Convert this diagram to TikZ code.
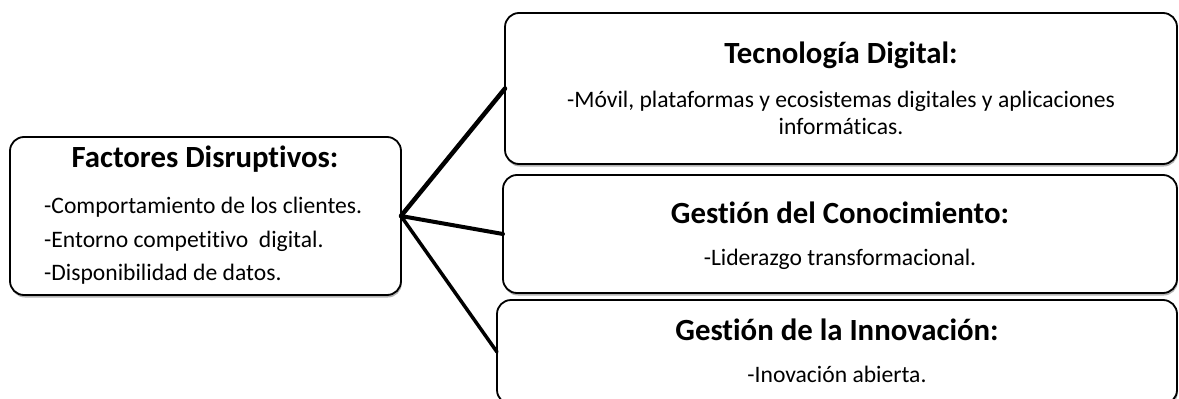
\documentclass[tikz,border=0pt]{standalone}
\usepackage{fontspec}
\setmainfont{Carlito}[Ligatures=NoCommon]
\usetikzlibrary{shadows}
\begin{document}
\begin{tikzpicture}[x=1pt,y=-1pt,
  card/.style={draw=black, line width=1.8pt, rounded corners=14pt, fill=white,
    rectangle, inner sep=0pt, outer sep=0pt,
    drop shadow={shadow xshift=0.8pt, shadow yshift=-2.5pt, opacity=0.3, fill=black}},
  ttl/.style={font=\fontsize{30.8}{34}\selectfont\bfseries, anchor=base, inner sep=0pt},
  txt/.style={font=\fontsize{23.6}{27}\selectfont, anchor=base, inner sep=0pt},
  ltxt/.style={font=\fontsize{23.6}{27}\selectfont, anchor=base west, inner sep=0pt},
  link/.style={draw=black, line cap=round}]
\useasboundingbox (0,0) rectangle (1179,399);
\clip (0,0) rectangle (1179,399);
\fill[white] (0,0) rectangle (1179,399);

% boxes
\node[card, minimum width=391pt, minimum height=158pt] (fd) at (205.5,216) {};
\node[card, minimum width=672pt, minimum height=151pt] (td) at (841,88.5) {};
\node[card, minimum width=674pt, minimum height=118pt] (gc) at (840,234) {};
\node[card, minimum width=680pt, minimum height=104pt] (gi) at (837,352) {};

% connectors
\draw[link, line width=4.5pt] (fd.east) -- (td.west);
\draw[link, line width=4pt] (fd.east) -- (gc.west);
\draw[link, line width=3.5pt] (fd.east) -- (gi.west);

% left box text
\node[ttl] (fdt) at (205,167) {Factores Disruptivos:};
\node[ltxt] (fd1) at (44,213) {-Comportamiento de los clientes.};
\node[ltxt] (fd2) at (44,247) {-Entorno competitivo\ \ digital.};
\node[ltxt] (fd3) at (44,280) {-Disponibilidad de datos.};

% right box text
\node[ttl] (tdt) at (841,63) {Tecnología Digital:};
\node[txt] (td1) at (841,107) {-Móvil, plataformas y ecosistemas digitales y aplicaciones};
\node[txt] (td2) at (841,134) {informáticas.};

\node[ttl] (gct) at (840,223) {Gestión del Conocimiento:};
\node[txt] (gc1) at (840,265) {-Liderazgo transformacional.};

\node[ttl] (git) at (837,340) {Gestión de la Innovación:};
\node[txt] (gi1) at (837,382) {-Inovación abierta.};
\end{tikzpicture}
\end{document}
